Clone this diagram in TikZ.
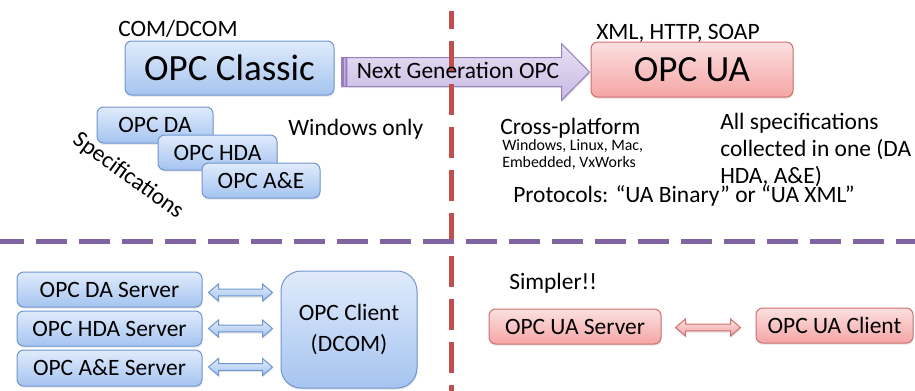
\documentclass[tikz,border=0pt]{standalone}
\usepackage{fontspec}
\setmainfont{Carlito}
\usetikzlibrary{calc,shadows}
\definecolor{blueTop}{RGB}{224,235,251}
\definecolor{blueBot}{RGB}{165,196,240}
\definecolor{blueLine}{RGB}{112,150,208}
\definecolor{redTop}{RGB}{252,224,224}
\definecolor{redBot}{RGB}{245,165,165}
\definecolor{redLine}{RGB}{205,112,110}
\definecolor{purpTop}{RGB}{232,225,244}
\definecolor{purpBot}{RGB}{200,185,226}
\definecolor{purpLine}{RGB}{150,126,192}
\definecolor{dashRed}{RGB}{192,80,77}
\definecolor{dashPurp}{RGB}{128,100,162}
\newcommand\twoway[3]{%
  \path[#1] let \p1=#2, \p2=#3 in
    (\x1,\y1) -- (\x1+7.5pt,\y1+6.4pt) -- (\x1+7.5pt,\y1+2.5pt) -- (\x2-7.5pt,\y1+2.5pt)
    -- (\x2-7.5pt,\y1+6.4pt) -- (\x2,\y1) -- (\x2-7.5pt,\y1-6.4pt) -- (\x2-7.5pt,\y1-2.5pt)
    -- (\x1+7.5pt,\y1-2.5pt) -- (\x1+7.5pt,\y1-6.4pt) -- cycle;}
\tikzset{
  shad/.style={drop shadow={opacity=0.22, shadow xshift=0.4pt, shadow yshift=-1.3pt}},
  bluebox/.style={draw=blueLine, line width=0.75pt, rounded corners=5pt, top color=blueTop, bottom color=blueBot, inner sep=0pt, shad},
  redbox/.style={draw=redLine, line width=0.75pt, rounded corners=5pt, top color=redTop, bottom color=redBot, inner sep=0pt, shad},
  bluearr/.style={draw=blueLine, line width=0.75pt, top color=blueTop, bottom color=blueBot, shad},
  redarr/.style={draw=redLine, line width=0.75pt, top color=redTop, bottom color=redBot, shad},
  purparr/.style={draw=purpLine, line width=0.75pt, top color=purpTop, bottom color=purpBot, shad},
  sz/.style 2 args={minimum width=#1*0.75pt, minimum height=#2*0.75pt},
  big/.style={font=\fontsize{27.75}{32}\selectfont},
  med/.style={font=\fontsize{17.6}{21}\selectfont},
  small/.style={font=\fontsize{11.9}{14}\selectfont},
  lbl/.style={med, anchor=base west, inner sep=0pt},
  redDash/.style={draw=dashRed, line width=3.75pt, dash pattern=on 23.25pt off 9pt, dash phase=9.75pt},
  purpDash/.style={draw=dashPurp, line width=3.6pt, dash pattern=on 23.25pt off 9pt},
}
\begin{document}
\begin{tikzpicture}[x=0.75pt, y=-0.75pt]
\useasboundingbox (0,0) rectangle (915,390);
\clip (0,0) rectangle (915,390);

% top left
\node[lbl] (comdcom) at (118,36) {COM/DCOM};
\node[bluebox, sz={209}{54}, big] (classic) at (229.5,68) {OPC Classic};
\node[bluebox, sz={116}{36}, med] (da) at (155,125) {OPC DA};
\node[bluebox, sz={119}{35}, med] (hda) at (217.5,152.5) {OPC HDA};
\node[bluebox, sz={118}{35}, med] (ae) at (261,180.5) {OPC A\&E};
\node[lbl] (winonly) at (288,135) {Windows only};
\node[med, rotate=-36, inner sep=0pt] (specs) at (128,176) {Specifications};

% top right
\node[lbl] (xml) at (596,39.5) {XML, HTTP, SOAP};
\node[redbox, sz={202}{55}, big] (ua) at (692,69.5) {OPC UA};

% striped arrow
\coordinate (arrS) at ($(classic.east)+(7,4)$);
\coordinate (arrT) at ($(ua.west)+(-1,2.5)$);
\path[purparr] let \p1=(arrS), \p2=(arrT) in
  (\x1,\y1-10.875pt) rectangle (\x1+1.1pt,\y1+10.875pt)
  (\x1+1.8pt,\y1-10.875pt) rectangle (\x1+3.3pt,\y1+10.875pt)
  (\x1+4.1pt,\y1-10.875pt) -- (\x2-21pt,\y1-10.875pt) -- (\x2-21pt,\y1-21.375pt)
  -- (\x2,\y1) -- (\x2-21pt,\y1+21.375pt) -- (\x2-21pt,\y1+10.875pt)
  -- (\x1+4.1pt,\y1+10.875pt) -- cycle;

% dashed separators
\draw[redDash] (451.5,11) -- (451.5,392);
\draw[purpDash] (-7,241.5) -- (920,241.5);

\node[med, inner sep=0pt] (ngtxt) at (458,70.5) {Next Generation OPC};

\node[lbl] (cross) at (500,134.5) {Cross-platform};
\node[lbl, small] (os1) at (502,150) {Windows, Linux, Mac,};
\node[lbl, small] (os2) at (502,167.5) {Embedded, VxWorks};
\node[lbl] (all1) at (720,129.5) {All specifications};
\node[lbl] (all2) at (720,156) {collected in one (DA};
\node[lbl] (all3) at (720,183) {HDA, A\&E)};
\node[lbl] (proto) at (513,202) {Protocols: “UA Binary” or “UA XML”};

% bottom left
\node[bluebox, sz={185}{35}, med] (s1) at (109.5,289.5) {OPC DA Server};
\node[bluebox, sz={185}{35}, med] (s2) at (109.5,328.5) {OPC HDA Server};
\node[bluebox, sz={185}{36}, med] (s3) at (109.5,368) {OPC A\&E Server};
\node[bluebox, sz={136}{117}, rounded corners=15pt, align=center, font=\fontsize{17.6}{23.25}\selectfont] (cl) at (349,329.5) {OPC Client\\(DCOM)};
\twoway{bluearr}{($(s1.east)+(6,3)$)}{($(cl.west|-s1)+(-8,3)$)}
\twoway{bluearr}{($(s2.east)+(6,0)$)}{($(cl.west|-s2)+(-8,0)$)}
\twoway{bluearr}{($(s3.east)+(6,-1)$)}{($(cl.west|-s3)+(-8,-1)$)}

% bottom right
\node[lbl] (simpler) at (509,289) {Simpler!!};
\node[redbox, sz={172}{35}, med] (uas) at (575,326.5) {OPC UA Server};
\node[redbox, sz={157}{35}, med] (uac) at (834.5,325.5) {OPC UA Client};
\twoway{redarr}{($(uas.east)+(14,1)$)}{($(uac.west|-uas)+(-15,1)$)}
\end{tikzpicture}
\end{document}
